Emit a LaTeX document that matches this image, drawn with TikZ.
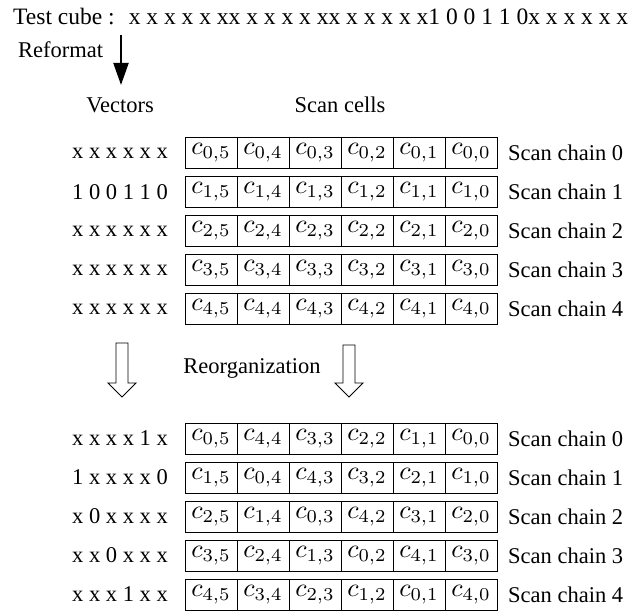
\documentclass[tikz,border=0pt]{standalone}
\usepackage{graphicx}
\usepackage{fontspec}
\setmainfont{Liberation Serif}
\usetikzlibrary{arrows.meta}
% scan cell name, set in 10pt math and enlarged to the label size
\newcommand{\cellname}[2]{\raisebox{-3.5pt}{\scalebox{2.6}{\fontsize{10}{12}\selectfont$c_{#1,#2}$}}}
\begin{document}
\begin{tikzpicture}[x=1pt,y=-1pt,
  every node/.style={font=\fontsize{22.5}{27}\selectfont, inner sep=0pt},
  cell/.style={draw, line width=0.9pt, minimum width=52pt, minimum height=31pt},
  vec/.style={anchor=east},
  chain/.style={anchor=west},
  hollow/.style={draw, line width=0.9pt, fill=white}]
\useasboundingbox (0,0) rectangle (642,610);

% header line and the reformat step
\node[anchor=west, font=\fontsize{23.5}{28}\selectfont] (cube) at (13,17)
  {Test cube :\hspace{0.6em}x x x x x xx x x x x xx x x x x x1 0 0 1 1 0x x x x x x};
\node[anchor=west] (reformat) at (18,50) {Reformat};
\coordinate (rfTop) at (121,35);
\coordinate (rfTip) at (121,85);
\draw[line width=2pt, -{Triangle[length=22pt,width=15pt]}] (rfTop) -- (rfTip);

\node (vectors) at (120,105) {Vectors};
\node (scancells) at (340,105) {Scan cells};

% original scan chains
\foreach \r in {0,...,4} {
  \foreach \c in {5,...,0} {
    \node[cell] (t\r\c) at ({211+(5-\c)*52},{153+39*\r}) {\cellname{\r}{\c}};
  }
  \node[chain] (st\r) at (508,{153+39*\r}) {Scan chain \r};
}
\node[vec] (vt0) at (168,153) {x x x x x x};
\node[vec] (vt1) at (168,192) {1 0 0 1 1 0};
\node[vec] (vt2) at (168,231) {x x x x x x};
\node[vec] (vt3) at (168,270) {x x x x x x};
\node[vec] (vt4) at (168,309) {x x x x x x};

% reorganization arrows
\draw[hollow] (116,343) -- (128,343) -- (128,383) -- (136,383) -- (122,397)
  -- (108,383) -- (116,383) -- cycle;
\draw[hollow] (343,345) -- (355,345) -- (355,383) -- (363,383) -- (349,397)
  -- (335,383) -- (343,383) -- cycle;
\node (reorg) at (252,368) {Reorganization};

% reorganized scan chains
\foreach \r in {0,...,4} {
  \foreach \c in {5,...,0} {
    \pgfmathtruncatemacro\k{mod(\r+\c,5)}
    \node[cell] (b\r\c) at ({211+(5-\c)*52},{438.5+39*\r}) {\cellname{\k}{\c}};
  }
  \node[chain] (sb\r) at (508,{438.5+39*\r}) {Scan chain \r};
}
\node[vec] (vb0) at (168,438.5) {x x x x 1 x};
\node[vec] (vb1) at (168,477.5) {1 x x x x 0};
\node[vec] (vb2) at (168,516.5) {x 0 x x x x};
\node[vec] (vb3) at (168,555.5) {x x 0 x x x};
\node[vec] (vb4) at (168,594.5) {x x x 1 x x};
\end{tikzpicture}
\end{document}
